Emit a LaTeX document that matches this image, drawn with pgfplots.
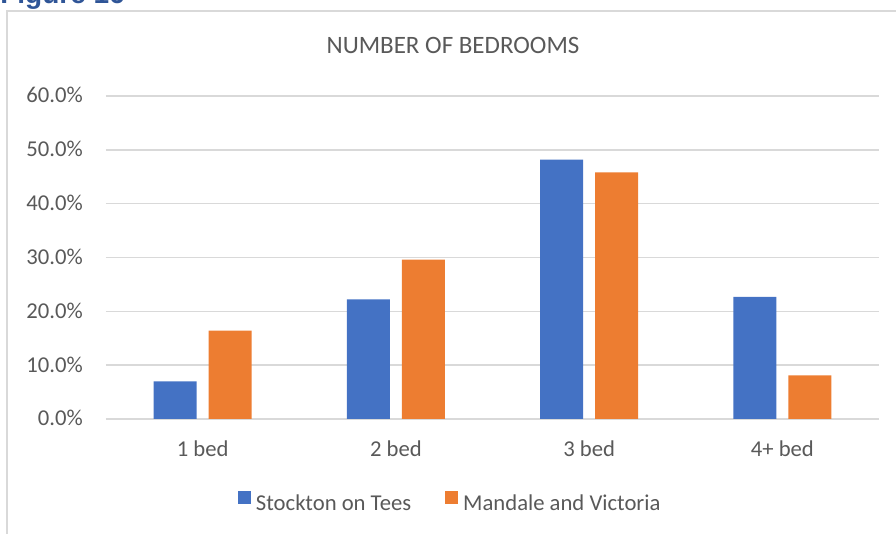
\documentclass[border=0pt]{standalone}
\usepackage{fontspec}
\setmainfont{Carlito}
\newfontfamily\figfont{Liberation Sans}
\usepackage{pgfplots}
\pgfplotsset{compat=1.18}
\definecolor{labelgray}{HTML}{595959}
\definecolor{gridgray}{HTML}{D9D9D9}
\definecolor{cblue}{HTML}{4472C4}
\definecolor{corange}{HTML}{ED7D31}
\definecolor{figblue}{HTML}{2F5597}
\begin{document}
\begin{tikzpicture}
\useasboundingbox (0pt,0pt) rectangle (672pt,400.5pt);
\draw[gridgray, line width=1.5pt] (5.25pt,-5pt) -- (5.25pt,392.25pt) -- (690pt,392.25pt);
\node[anchor=base west, inner sep=0pt, text=figblue, font=\figfont\bfseries\fontsize{21}{25}\selectfont] at (0pt,397.5pt) {Figure 16};
\node[anchor=base, inner sep=0pt, text=labelgray, font=\fontsize{18.75}{22}\selectfont] at (339.75pt,360pt) {NUMBER OF BEDROOMS};
\begin{axis}[
  at={(79.5pt,86.25pt)}, anchor=south west,
  width=579.75pt, height=242.25pt, scale only axis,
  xmin=-0.5, xmax=3.5, ymin=0, ymax=60,
  xtick={0,1,2,3}, xticklabels={1 bed,2 bed,3 bed,4+ bed},
  ytick={0,10,20,30,40,50,60},
  yticklabels={0.0\%,10.0\%,20.0\%,30.0\%,40.0\%,50.0\%,60.0\%},
  ymajorgrids, grid style={draw=gridgray, line width=1.1pt},
  axis line style={draw=none}, major tick length=0pt,
  tick label style={font=\fontsize{17}{20}\selectfont, text=labelgray, inner sep=0pt},
  xticklabel style={anchor=base, yshift=-28.5pt},
  yticklabel style={anchor=base east, xshift=-17.25pt, yshift=-5.25pt},
  legend style={at={(0.444,-0.257)}, anchor=center, draw=none, fill=none, inner sep=0pt,
    font=\fontsize{17}{20}\selectfont, text=labelgray,
    nodes={inner sep=0pt, text=labelgray},
    legend columns=2,
    /tikz/every odd column/.append style={column sep=3.75pt},
    /tikz/every even column/.append style={column sep=25.5pt}},
  legend image code/.code={\fill[#1] (0pt,0pt) rectangle (9.75pt,9.75pt);},
  clip=false,
]
\addplot[ybar, bar width=32.25pt, bar shift=-20.6pt, fill=cblue, draw=none]
  coordinates {(0,7.0) (1,22.2) (2,48.2) (3,22.7)};
\addlegendentry{Stockton on Tees}
\addplot[ybar, bar width=32.25pt, bar shift=20.6pt, fill=corange, draw=none]
  coordinates {(0,16.4) (1,29.6) (2,45.8) (3,8.1)};
\addlegendentry{Mandale and Victoria}
\end{axis}
\end{tikzpicture}
\end{document}
